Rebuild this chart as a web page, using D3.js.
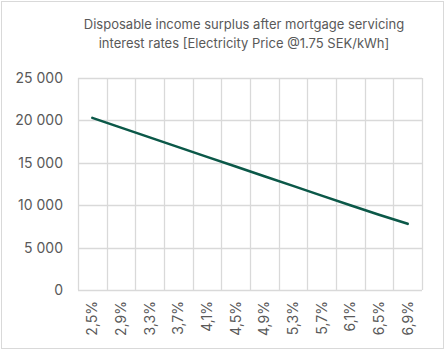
<!DOCTYPE html>
<html><head><meta charset="utf-8">
<script src="https://cdn.jsdelivr.net/npm/d3@7"></script>
<style>body{margin:0;background:#fff}</style>
</head><body>
<svg id="c" width="446" height="352"></svg>
<script>
const categories = ["2,5%","2,9%","3,3%","3,7%","4,1%","4,5%","4,9%","5,3%","5,7%","6,1%","6,5%","6,9%"];
const values = [20300, 19150, 18000, 16850, 15700, 14560, 13420, 12280, 11130, 9990, 8880, 7800];
const yTicks = [0, 5000, 10000, 15000, 20000, 25000];
const titleLines = ["Disposable income surplus after mortgage servicing", "interest rates [Electricity Price @1.75 SEK/kWh]"];

const svg = d3.select("#c");
const font = "Inter, 'Open Sans', sans-serif";
const grid = "#d9d9d9", txt = "#595959";
const m = {l: 78, r: 422, t: 78, b: 290};

svg.append("rect").attr("x", 1.5).attr("y", 1.5).attr("width", 442).attr("height", 347)
  .attr("fill", "#fff").attr("stroke", grid).attr("stroke-width", 1);

svg.selectAll("text.title").data(titleLines).enter().append("text")
  .attr("x", 244).attr("y", (d, i) => 29 + i * 19)
  .attr("text-anchor", "middle").attr("font-family", font).attr("font-size", 13)
  .attr("fill", txt).text(d => d);

const x = d3.scaleBand().domain(categories).range([m.l, m.r]);
const y = d3.scaleLinear().domain([0, 25000]).range([m.b, m.t]);

// horizontal grid
svg.append("g").selectAll("line").data(yTicks).enter().append("line")
  .attr("x1", m.l).attr("x2", m.r)
  .attr("y1", d => Math.round(y(d)) + 0.5).attr("y2", d => Math.round(y(d)) + 0.5)
  .attr("stroke", grid).attr("stroke-width", 1.3);

// vertical grid at category boundaries
const bounds = categories.map(c => x(c)).concat([m.r]);
svg.append("g").selectAll("line").data(bounds).enter().append("line")
  .attr("x1", d => Math.round(d) + 0.5).attr("x2", d => Math.round(d) + 0.5)
  .attr("y1", m.t).attr("y2", m.b)
  .attr("stroke", grid).attr("stroke-width", 1.3);

// y labels
const fmt = v => d3.format(",")(v).replace(/,/g, " ");
svg.append("g").selectAll("text").data(yTicks).enter().append("text")
  .attr("x", 63).attr("y", d => y(d) + 5)
  .attr("text-anchor", "end").attr("font-family", font).attr("font-size", 14)
  .attr("fill", txt).text(fmt);

// x labels
svg.append("g").selectAll("text").data(categories).enter().append("text")
  .attr("transform", d => `translate(${x(d) + x.bandwidth() / 2 + 5},${m.b + 11}) rotate(-90)`)
  .attr("text-anchor", "end").attr("font-family", font).attr("font-size", 14)
  .attr("fill", txt).text(d => d);

// line
const line = d3.line().x((d, i) => x(categories[i]) + x.bandwidth() / 2).y(d => y(d));
svg.append("path").datum(values).attr("d", line)
  .attr("fill", "none").attr("stroke", "#0b5848").attr("stroke-width", 2.6)
  .attr("stroke-linecap", "round");
</script>
</body></html>
